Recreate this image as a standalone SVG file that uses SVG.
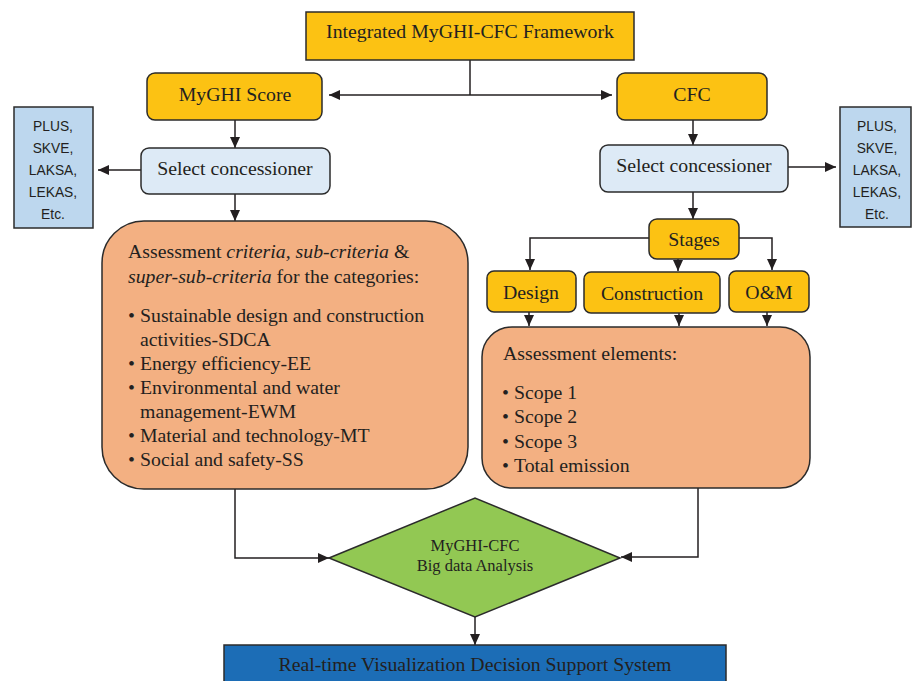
<svg xmlns="http://www.w3.org/2000/svg" width="913" height="681" viewBox="0 0 913 681">
<defs>
<marker id="ah" markerUnits="userSpaceOnUse" markerWidth="12" markerHeight="10" refX="11" refY="5" orient="auto">
<path d="M0,0 L11,5 L0,10 Z" fill="#231f20"/>
</marker>
<style>
.t{font-family:"Liberation Serif","Times New Roman",serif;font-size:19.8px;fill:#231f20}
.s{font-family:"Liberation Sans",Arial,sans-serif;font-size:13.8px;fill:#231f20;text-anchor:middle}
.gold{fill:#fcc213;stroke:#2b2b2b;stroke-width:1.5}
.sel{fill:#ddeaf6;stroke:#2b2b2b;stroke-width:1.5}
.lb{fill:#bdd7ee;stroke:#2b2b2b;stroke-width:1.5}
.org{fill:#f3b082;stroke:#2b2b2b;stroke-width:1.5}
.c{fill:none;stroke:#231f20;stroke-width:1.5}
.m{text-anchor:middle}
</style>
</defs>
<rect width="913" height="681" fill="#ffffff"/>

<g id="connectors">
<path class="c" d="M470,59 V95"/>
<path class="c" d="M470,95 H329" marker-end="url(#ah)"/>
<path class="c" d="M470,95 H612" marker-end="url(#ah)"/>
<path class="c" d="M235,120 V148" marker-end="url(#ah)"/>
<path class="c" d="M141,170 H98" marker-end="url(#ah)"/>
<path class="c" d="M235,194 V221" marker-end="url(#ah)"/>
<path class="c" d="M693,120 V145" marker-end="url(#ah)"/>
<path class="c" d="M788,167 H836" marker-end="url(#ah)"/>
<path class="c" d="M693,192 V219" marker-end="url(#ah)"/>
<path class="c" d="M649,238 H530 V270" marker-end="url(#ah)"/>
<path class="c" d="M739,238 H772 V270" marker-end="url(#ah)"/>
<path class="c" d="M678,259 V271" marker-end="url(#ah)"/>
<path class="c" d="M529,312 V326" marker-end="url(#ah)"/>
<path class="c" d="M679,313 V326" marker-end="url(#ah)"/>
<path class="c" d="M767,312 V326" marker-end="url(#ah)"/>
<path class="c" d="M235,489 V558 H329" marker-end="url(#ah)"/>
<path class="c" d="M698,488 V557 H621" marker-end="url(#ah)"/>
<path class="c" d="M475,617 V645" marker-end="url(#ah)"/>
</g>

<g id="framework">
<rect x="306" y="12" width="328" height="48" fill="#fcc213" stroke="#2b2b2b" stroke-width="1.5"/>
<text class="t m" x="470" y="38">Integrated MyGHI-CFC Framework</text>
</g>

<g id="myghi-score">
<rect class="gold" x="147" y="73" width="175" height="47" rx="8"/>
<text class="t m" x="235" y="101">MyGHI Score</text>
</g>

<g id="cfc">
<rect class="gold" x="617" y="73" width="150" height="47" rx="8"/>
<text class="t m" x="692" y="101">CFC</text>
</g>

<g id="concessioners-left">
<rect class="lb" x="14" y="107" width="79" height="121"/>
<text class="s" x="53" y="131">PLUS,</text>
<text class="s" x="53" y="153">SKVE,</text>
<text class="s" x="53" y="175">LAKSA,</text>
<text class="s" x="53" y="197">LEKAS,</text>
<text class="s" x="53" y="219">Etc.</text>
</g>

<g id="select-left">
<rect class="sel" x="141" y="148" width="189" height="46" rx="8"/>
<text class="t m" x="235" y="175">Select concessioner</text>
</g>

<g id="select-right">
<rect class="sel" x="600" y="145" width="188" height="47" rx="8"/>
<text class="t m" x="694" y="172">Select concessioner</text>
</g>

<g id="concessioners-right">
<rect class="lb" x="840" y="107" width="71" height="120"/>
<text class="s" x="877" y="131">PLUS,</text>
<text class="s" x="877" y="153">SKVE,</text>
<text class="s" x="877" y="175">LAKSA,</text>
<text class="s" x="877" y="197">LEKAS,</text>
<text class="s" x="877" y="219">Etc.</text>
</g>

<g id="criteria">
<rect class="org" x="102" y="221" width="366" height="268" rx="42"/>
<text class="t" x="128" y="258">Assessment <tspan font-style="italic">criteria, sub-criteria</tspan> &amp;</text>
<text class="t" x="128" y="283"><tspan font-style="italic">super-sub-criteria</tspan> for the categories:</text>
<g class="t">
<text x="128" y="322">•</text><text x="140" y="322">Sustainable design and construction</text>
<text x="140" y="346">activities-SDCA</text>
<text x="128" y="370">•</text><text x="140" y="370">Energy efficiency-EE</text>
<text x="128" y="394">•</text><text x="140" y="394">Environmental and water</text>
<text x="140" y="418">management-EWM</text>
<text x="128" y="442">•</text><text x="140" y="442">Material and technology-MT</text>
<text x="128" y="466">•</text><text x="140" y="466">Social and safety-SS</text>
</g>
</g>

<g id="stages">
<rect class="gold" x="649" y="219" width="90" height="40" rx="8"/>
<text class="t m" x="694" y="246">Stages</text>
</g>

<g id="design">
<rect class="gold" x="487" y="271" width="89" height="41" rx="7"/>
<text class="t m" x="531" y="299">Design</text>
</g>

<g id="construction">
<rect class="gold" x="584" y="272" width="136" height="41" rx="7"/>
<text class="t m" x="652" y="300">Construction</text>
</g>

<g id="om">
<rect class="gold" x="729" y="271" width="80" height="41" rx="7"/>
<text class="t m" x="769" y="299">O&amp;M</text>
</g>

<g id="elements">
<rect class="org" x="482" y="327" width="328" height="161" rx="30"/>
<text class="t" x="503" y="360">Assessment elements:</text>
<g class="t">
<text x="502" y="399">•</text><text x="514" y="399">Scope 1</text>
<text x="502" y="423">•</text><text x="514" y="423">Scope 2</text>
<text x="502" y="448">•</text><text x="514" y="448">Scope 3</text>
<text x="502" y="472">•</text><text x="514" y="472">Total emission</text>
</g>
</g>

<g id="analysis">
<path d="M329,558 L475,498 L620,558 L475,617 Z" fill="#92c853" stroke="#2b2b2b" stroke-width="1.5"/>
<text class="t m" x="475" y="551" style="font-size:16.5px">MyGHI-CFC</text>
<text class="t m" x="475" y="571" style="font-size:16.5px">Big data Analysis</text>
</g>

<g id="dss">
<rect x="224" y="645" width="502" height="40" fill="#1c6db6" stroke="#2b2b2b" stroke-width="1.5"/>
<text class="t m" x="475" y="671">Real-time Visualization Decision Support System</text>
</g>
</svg>
